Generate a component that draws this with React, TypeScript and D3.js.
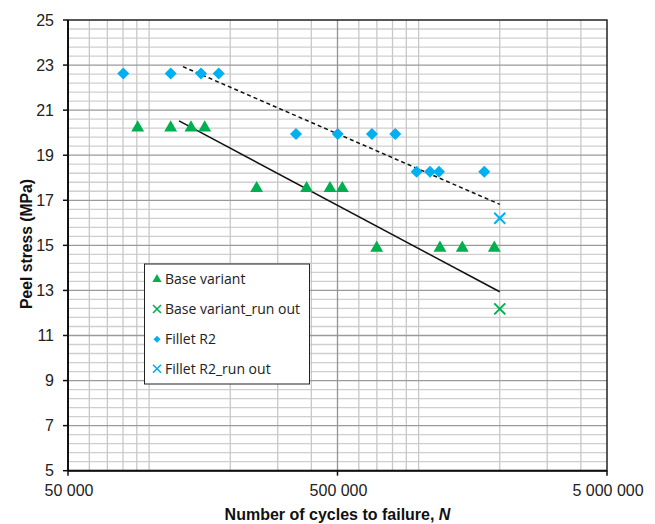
import React from "react";
import * as d3 from "d3";

const baseN = [90700, 120200, 143000, 160800, 250600, 384000, 469000, 521000, 699000, 1200000, 1452000, 1909000];
const baseS = [20.22, 20.22, 20.22, 20.22, 17.53, 17.53, 17.53, 17.53, 14.88, 14.88, 14.88, 14.88];
const baseRunN = [2000000];
const baseRunS = [12.18];
const filletN = [80200, 120200, 155800, 181200, 350700, 501000, 671000, 819000, 983000, 1102000, 1190000, 1752000];
const filletS = [22.63, 22.63, 22.63, 22.63, 19.94, 19.94, 19.94, 19.94, 18.27, 18.27, 18.27, 18.27];
const filletRunN = [2000000];
const filletRunS = [16.2];
const baseTrendN = [129100, 2000000];
const baseTrendS = [20.52, 12.94];
const filletTrendN = [133500, 2000000];
const filletTrendS = [22.93, 16.82];

const xTicks = [50000, 500000, 5000000];
const yTicks = [5, 7, 9, 11, 13, 15, 17, 19, 21, 23, 25];
const legendLabels = ["Base variant", "Base variant_run out", "Fillet R2", "Fillet R2_run out"];

const GREEN = "#00b050";
const BLUE = "#00b0f0";

const W = 655, H = 524;
const M = { left: 68, right: 607, top: 20, bottom: 470.7 };

export default function App() {
  const x = d3.scaleLog().domain([50000, 5000000]).range([M.left, M.right]);
  const y = d3.scaleLinear().domain([5, 25]).range([M.bottom, M.top]);

  const minorX: number[] = [];
  [10000, 100000, 1000000].forEach((p) => {
    for (let k = 1; k <= 9; k++) {
      const v = p * k;
      if (v > 50000 && v < 5000000 && v !== 500000) minorX.push(v);
    }
  });
  const minorY: number[] = [];
  for (let i = 0; i <= 50; i++) {
    const v = 5 + i * 0.4;
    if (Math.abs((v - 5) % 2) > 0.01 && Math.abs(((v - 5) % 2) - 2) > 0.01) minorY.push(v);
  }
  const majorY = yTicks.slice(1, -1);

  const fmt = (v: number) => d3.format(",")(v).replace(/,/g, " ");

  const tri = d3.symbol().type(d3.symbolTriangle).size(72);
  const dia = (cx: number, cy: number, r: number) =>
    `M${cx},${cy - r}L${cx + r},${cy}L${cx},${cy + r}L${cx - r},${cy}Z`;
  const cross = (cx: number, cy: number, r: number) =>
    `M${cx - r},${cy - r}L${cx + r},${cy + r}M${cx - r},${cy + r}L${cx + r},${cy - r}`;

  const line = d3.line<[number, number]>().x((d) => x(d[0])).y((d) => y(d[1]));

  const lx = 144.5, ly = 264, lw = 165, lh = 120;
  const legendY = [279.3, 309, 339.3, 368.7];
  const mx = 157;

  return (
    <svg width={W} height={H} style={{ position: "absolute", left: 0, top: 0 }}>
      <rect width={W} height={H} fill="#fff" />
      {minorY.map((v, i) => (
        <line key={"my" + i} x1={M.left} x2={M.right} y1={y(v)} y2={y(v)} stroke="#cfcfcf" strokeWidth={1.3} />
      ))}
      {minorX.map((v, i) => (
        <line key={"mx" + i} x1={x(v)} x2={x(v)} y1={M.top} y2={M.bottom} stroke="#c8c8c8" strokeWidth={1.3} />
      ))}
      {majorY.map((v, i) => (
        <line key={"My" + i} x1={M.left} x2={M.right} y1={y(v)} y2={y(v)} stroke="#9a9a9a" strokeWidth={1.3} />
      ))}
      <line x1={x(500000)} x2={x(500000)} y1={M.top} y2={M.bottom} stroke="#939393" strokeWidth={1.3} />
      <rect x={M.left} y={M.top} width={M.right - M.left} height={M.bottom - M.top} fill="none" stroke="#222" strokeWidth={1.5} />
      <line x1={M.left} x2={M.left} y1={M.top} y2={M.bottom} stroke="#111" strokeWidth={2} />
      <line x1={M.left} x2={M.right} y1={M.bottom} y2={M.bottom} stroke="#111" strokeWidth={2} />
      {yTicks.map((v) => (
        <g key={"yt" + v}>
          <line x1={M.left - 5} x2={M.left} y1={y(v)} y2={y(v)} stroke="#111" strokeWidth={1.5} />
          <text x={M.left - 14} y={y(v)} dy="0.35em" textAnchor="end" fontFamily="Liberation Sans, Arial, sans-serif" fontSize={16} fill="#222">
            {v}
          </text>
        </g>
      ))}
      {xTicks.map((v) => (
        <g key={"xt" + v}>
          <line x1={x(v)} x2={x(v)} y1={M.bottom} y2={M.bottom + 5} stroke="#111" strokeWidth={1.5} />
          <text x={x(v) + 1} y={490} dy="0.35em" textAnchor="middle" fontFamily="Liberation Sans, Arial, sans-serif" fontSize={16} fill="#222">
            {fmt(v)}
          </text>
        </g>
      ))}
      <text x={(M.left + M.right) / 2} y={519.5} textAnchor="middle" fontFamily="Liberation Sans, Arial, sans-serif" fontSize={16} fontWeight="bold" fill="#111">
        Number of cycles to failure, <tspan fontStyle="italic">N</tspan>
      </text>
      <text transform={`translate(32,${244}) rotate(-90)`} textAnchor="middle" fontFamily="Liberation Sans, Arial, sans-serif" fontSize={15.7} fontWeight="bold" fill="#111">
        Peel stress (MPa)
      </text>

      <path d={line(baseTrendN.map((n, i) => [n, baseTrendS[i]]) as any) || ""} stroke="#111" strokeWidth={1.5} fill="none" />
      <path d={line(filletTrendN.map((n, i) => [n, filletTrendS[i]]) as any) || ""} stroke="#111" strokeWidth={1.5} strokeDasharray="4,3" fill="none" />

      {baseN.map((n, i) => (
        <path key={"b" + i} d={tri() || ""} transform={`translate(${x(n)},${y(baseS[i])})`} fill={GREEN} />
      ))}
      {filletN.map((n, i) => (
        <path key={"f" + i} d={dia(x(n), y(filletS[i]), 6)} fill={BLUE} />
      ))}
      {baseRunN.map((n, i) => (
        <path key={"br" + i} d={cross(x(n), y(baseRunS[i]), 5.5)} stroke={GREEN} strokeWidth={2} fill="none" />
      ))}
      {filletRunN.map((n, i) => (
        <path key={"fr" + i} d={cross(x(n), y(filletRunS[i]), 5.5)} stroke={BLUE} strokeWidth={2} fill="none" />
      ))}

      <rect x={lx} y={ly} width={lw} height={lh} fill="#fff" stroke="#222" strokeWidth={1} />
      <path d={d3.symbol().type(d3.symbolTriangle).size(36)() || ""} transform={`translate(${mx},${legendY[0]})`} fill={GREEN} />
      <path d={cross(mx, legendY[1], 4)} stroke={GREEN} strokeWidth={1.6} fill="none" />
      <path d={dia(mx, legendY[2], 3.5)} fill={BLUE} />
      <path d={cross(mx, legendY[3], 4)} stroke={BLUE} strokeWidth={1.6} fill="none" />
      {legendLabels.map((t, i) => (
        <text key={"l" + i} x={mx + 8} y={legendY[i]} dy="0.35em" fontFamily="Open Sans, sans-serif" fontSize={14} fill="#222">
          {t}
        </text>
      ))}
    </svg>
  );
}
